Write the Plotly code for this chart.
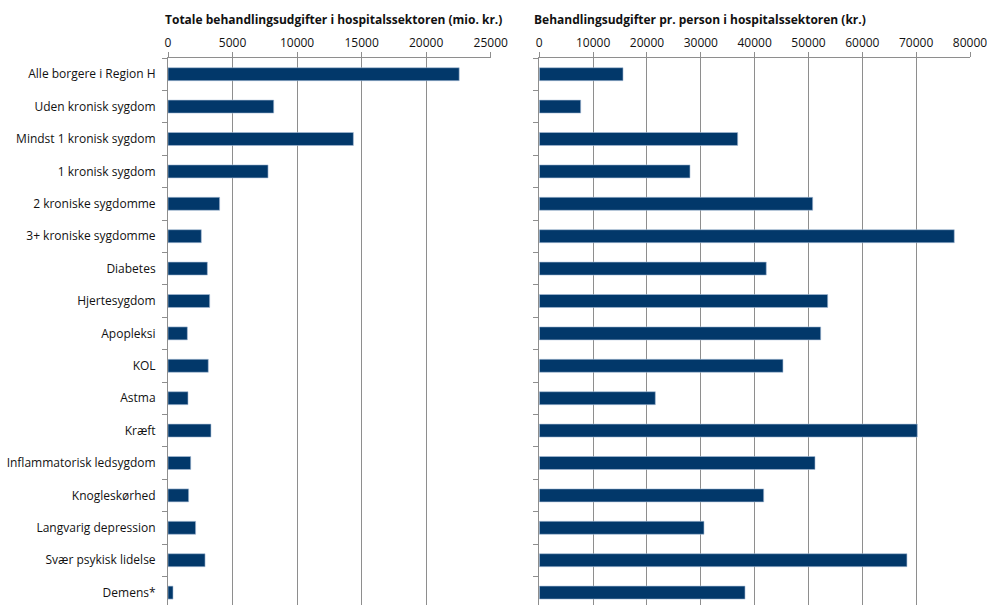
import plotly.graph_objects as go

categories = ["Alle borgere i Region H", "Uden kronisk sygdom", "Mindst 1 kronisk sygdom",
              "1 kronisk sygdom", "2 kroniske sygdomme", "3+ kroniske sygdomme", "Diabetes",
              "Hjertesygdom", "Apopleksi", "KOL", "Astma", "Kræft", "Inflammatorisk ledsygdom",
              "Knogleskørhed", "Langvarig depression", "Svær psykisk lidelse", "Demens*"]
total_mio = [22560, 8190, 14360, 7750, 4000, 2580, 3050, 3230, 1500, 3120, 1550, 3330,
             1760, 1600, 2140, 2870, 390]
per_person = [15550, 7690, 36850, 27990, 50780, 77080, 42160, 53570, 52270, 45260, 21550,
              70210, 51210, 41680, 30590, 68290, 38210]
left_ticks = [0, 5000, 10000, 15000, 20000, 25000]
right_ticks = [0, 10000, 20000, 30000, 40000, 50000, 60000, 70000, 80000]
title_left = "Totale behandlingsudgifter i hospitalssektoren (mio. kr.)"
title_right = "Behandlingsudgifter pr. person i hospitalssektoren (kr.)"

W, H = 987, 605
bar_color = "#02386A"
grid = "#8E8E8E"
font = dict(family="Open Sans, Liberation Sans, sans-serif", size=12, color="#111111")

fig = go.Figure()
fig.add_trace(go.Bar(y=categories, x=total_mio, orientation="h", xaxis="x", yaxis="y",
                     marker=dict(color=bar_color, line=dict(color="#A9BED6", width=0.6)),
                     showlegend=False))
fig.add_trace(go.Bar(y=categories, x=per_person, orientation="h", xaxis="x2", yaxis="y2",
                     marker=dict(color=bar_color, line=dict(color="#A9BED6", width=0.6)),
                     showlegend=False))

yrange = [-0.5 + 547 / 32.4, -0.5]

axis_common = dict(showline=True, linecolor=grid, linewidth=1, ticks="outside",
                   ticklen=5, tickcolor=grid, showgrid=True, gridcolor=grid, gridwidth=1,
                   side="top", zeroline=False, tickfont=font, ticklabeloverflow="allow")

fig.update_layout(
    width=W, height=H,
    margin=dict(l=0, r=0, t=58, b=0, autoexpand=False),
    paper_bgcolor="white", plot_bgcolor="white",
    bargap=0.6,
    font=font,
    xaxis=dict(domain=[168 / W, 490.7 / W], range=[0, 25000], tickvals=left_ticks,
               ticktext=[str(v) for v in left_ticks], anchor="y", **axis_common),
    xaxis2=dict(domain=[539.3 / W, 970 / W], range=[0, 80000], tickvals=right_ticks,
                ticktext=[str(v) for v in right_ticks], anchor="y2", **axis_common),
    yaxis=dict(domain=[0, 1], range=yrange, type="category", anchor="x",
               showline=True, linecolor=grid, ticks="outside", ticklen=5, tickcolor=grid,
               tickson="boundaries", showgrid=False, tickfont=font, ticklabelstandoff=9),
    yaxis2=dict(domain=[0, 1], range=yrange, type="category", anchor="x2",
                showline=True, linecolor=grid, ticks="outside", ticklen=5, tickcolor=grid,
                tickson="boundaries", showgrid=False, showticklabels=False),
    annotations=[
        dict(text="<b>" + title_left + "</b>", xref="paper", yref="paper",
             x=163 / W, y=1 + (58 - 19) / 547, xanchor="left", yanchor="middle",
             showarrow=False, font=dict(family=font["family"], size=12, color="#111111")),
        dict(text="<b>" + title_right + "</b>", xref="paper", yref="paper",
             x=532 / W, y=1 + (58 - 19) / 547, xanchor="left", yanchor="middle",
             showarrow=False, font=dict(family=font["family"], size=12, color="#111111")),
    ],
)

fig.write_html("out.html", config={"displayModeBar": False},
               post_script="document.body.style.margin='0px';document.body.style.overflow='hidden';")
